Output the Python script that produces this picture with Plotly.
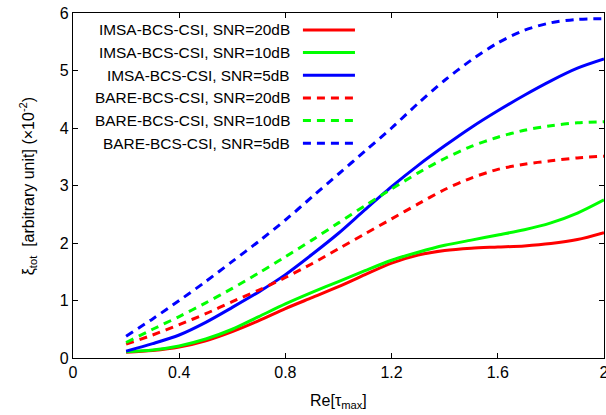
import plotly.graph_objects as go

# Re[tau_max] sample points
tau = [0.2, 0.3, 0.4, 0.5, 0.6, 0.7, 0.8, 0.9, 1.0, 1.1, 1.2, 1.3, 1.4, 1.5, 1.6, 1.7, 1.8, 1.9, 2.0]

# xi_tot (x 10^-2) for each method / noise level
imsa_20 = [0.10, 0.13, 0.19, 0.30, 0.46, 0.65, 0.86, 1.05, 1.24, 1.45, 1.65, 1.79, 1.87, 1.91, 1.93, 1.95, 1.99, 2.06, 2.18]
imsa_10 = [0.11, 0.14, 0.21, 0.33, 0.50, 0.72, 0.94, 1.14, 1.33, 1.52, 1.70, 1.84, 1.96, 2.05, 2.14, 2.23, 2.35, 2.52, 2.75]
imsa_5 = [0.12, 0.25, 0.40, 0.62, 0.88, 1.15, 1.45, 1.80, 2.17, 2.58, 2.98, 3.35, 3.69, 4.01, 4.30, 4.57, 4.82, 5.04, 5.20]
bare_20 = [0.24, 0.40, 0.58, 0.77, 0.98, 1.18, 1.40, 1.64, 1.90, 2.16, 2.42, 2.68, 2.93, 3.13, 3.28, 3.37, 3.43, 3.48, 3.51]
bare_10 = [0.27, 0.50, 0.72, 0.96, 1.21, 1.48, 1.76, 2.05, 2.35, 2.65, 2.94, 3.22, 3.47, 3.68, 3.84, 3.96, 4.04, 4.09, 4.11]
bare_5 = [0.38, 0.68, 1.00, 1.33, 1.68, 2.03, 2.40, 2.80, 3.20, 3.60, 4.00, 4.43, 4.83, 5.18, 5.48, 5.70, 5.83, 5.89, 5.90]

series_names = [
    "IMSA-BCS-CSI, SNR=20dB",
    "IMSA-BCS-CSI, SNR=10dB",
    "IMSA-BCS-CSI, SNR=5dB",
    "BARE-BCS-CSI, SNR=20dB",
    "BARE-BCS-CSI, SNR=10dB",
    "BARE-BCS-CSI, SNR=5dB",
]
series_values = [imsa_20, imsa_10, imsa_5, bare_20, bare_10, bare_5]
colors = ["#ff0000", "#00ff00", "#0000ff", "#ff0000", "#00ff00", "#0000ff"]
dashes = ["solid", "solid", "solid", "8px,6px", "8px,6px", "8px,6px"]

x_ticks = [0, 0.4, 0.8, 1.2, 1.6, 2.0]
x_tick_labels = ["0", "0.4", "0.8", "1.2", "1.6", "2"]
y_ticks = [0, 1, 2, 3, 4, 5, 6]

FONT = "Liberation Sans, Arial, sans-serif"

fig = go.Figure()
for name, vals, col, dash in zip(series_names, series_values, colors, dashes):
    fig.add_trace(go.Scatter(
        x=tau, y=vals, mode="lines", name=name,
        line=dict(color=col, width=3, dash=dash, shape="spline", smoothing=0.8),
        showlegend=False,
    ))

# Key: text right-aligned with a line sample on its right
key_text_x = 0.4124
key_line_x0, key_line_x1 = 0.433, 0.531
key_y0, key_dy = 0.951, 0.0657
annotations = []
shapes = []
for i, (name, col, dash) in enumerate(zip(series_names, colors, dashes)):
    yk = key_y0 - i * key_dy
    annotations.append(dict(
        xref="paper", yref="paper", x=key_text_x, y=yk, text=name,
        showarrow=False, xanchor="right", yanchor="middle",
        font=dict(family=FONT, size=15.4, color="#000000"),
    ))
    shapes.append(dict(
        type="line", xref="paper", yref="paper",
        x0=key_line_x0, x1=key_line_x1, y0=yk, y1=yk,
        line=dict(color=col, width=3, dash=dash),
    ))

# Axis titles
annotations.append(dict(
    xref="paper", yref="paper", x=-0.085, y=0.5,
    text="ξ<sub>tot</sub>  [arbitrary unit] (×10<sup>-2</sup>)",
    textangle=-90, showarrow=False, xanchor="center", yanchor="middle",
    font=dict(family=FONT, size=16, color="#000000"),
))
annotations.append(dict(
    xref="paper", yref="paper", x=0.5, y=-0.1275,
    text="Re[τ<sub>max</sub>]",
    showarrow=False, xanchor="center", yanchor="middle",
    font=dict(family=FONT, size=16, color="#000000"),
))

axis_common = dict(
    showline=True, mirror="ticks", linecolor="#000000", linewidth=1.2,
    ticks="inside", ticklen=5, tickwidth=1, tickcolor="#000000",
    showgrid=False, zeroline=False,
    ticklabeloverflow="allow", automargin=False,
    tickfont=dict(family=FONT, size=16, color="#000000"),
)

fig.update_layout(
    width=606, height=415,
    margin=dict(l=73, r=2, t=13, b=57, autoexpand=False),
    paper_bgcolor="#ffffff", plot_bgcolor="#ffffff",
    xaxis=dict(range=[0, 2], tickvals=x_ticks, ticktext=x_tick_labels, **axis_common),
    yaxis=dict(range=[0, 6], tickvals=y_ticks, **axis_common),
    annotations=annotations,
    shapes=shapes,
    font=dict(family=FONT),
)

fig.write_html("out.html")
